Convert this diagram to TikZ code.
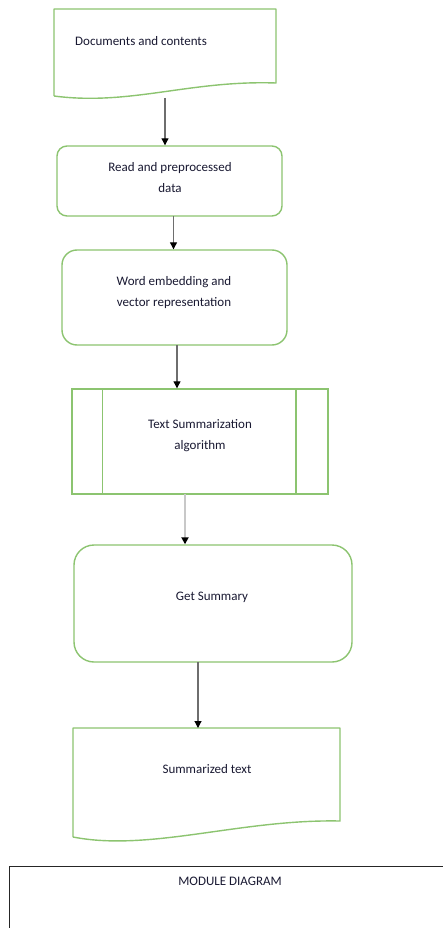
\documentclass[tikz,border=0pt]{standalone}
\usepackage{fontspec}
\setmainfont{Carlito}
\usetikzlibrary{arrows.meta}
\definecolor{gborder}{RGB}{140,196,112}
\definecolor{txtc}{RGB}{25,25,50}
\definecolor{arrc}{RGB}{110,110,110}
\definecolor{arrlight}{RGB}{200,200,200}
\begin{document}
\begin{tikzpicture}[x=1pt,y=-1pt,
  shapebox/.style={draw=gborder,line width=1.4pt,minimum width=#1,inner sep=0pt},
  lbl/.style={text=txtc,font=\fontsize{13}{21}\selectfont,align=center,inner sep=0pt},
  arr/.style={draw=arrc,line width=1.1pt,-{Triangle[color=black,width=7pt,length=7pt]}},
  docshape/.style={draw=gborder,line width=1.4pt,line join=round},
  innerline/.style={draw=gborder,line width=1.6pt}
]
\clip (0,0) rectangle (443,928);
\fill[white] (0,0) rectangle (443,928);

% document 1
\draw[docshape] (54,96) -- (54,9) -- (276,9) -- (276,83)
  .. controls (190,80) and (130,106) .. (54,96);
\coordinate (d1b) at (165,98);
\node[lbl,anchor=west] (t1) at (75,41) {Documents and contents};

% box 2
\node[shapebox=225pt,minimum height=70pt,rounded corners=10pt] (b2) at (169.5,181) {};
\node[lbl] (t2) at (170,177.5) {Read and preprocessed\\data};

% box 3
\node[shapebox=225pt,minimum height=95pt,rounded corners=15pt] (b3) at (174.5,297.5) {};
\node[lbl] (t3) at (174,292.5) {Word embedding and\\vector representation};

% box 4 predefined process
\node[shapebox=256pt,minimum height=105pt] (b4) at (200,441.5) {};
\draw[innerline] (b4.north west) ++(31,0) coordinate (b4il) -- (b4il |- b4.south);
\draw[innerline] (b4.north east) ++(-33,0) coordinate (b4ir) -- (b4ir |- b4.south);
\node[lbl] (t4) at (200,436) {Text Summarization\\algorithm};

% box 5
\node[shapebox=278pt,minimum height=117pt,rounded corners=20pt] (b5) at (213,603.5) {};
\node[lbl] (t5) at (212,597) {Get Summary};

% document 6
\draw[docshape] (73,837) -- (73,728) -- (340,728) -- (340,821)
  .. controls (240,819) and (150,852) .. (73,837);
\node[lbl] (t6) at (207,769) {Summarized text};
\coordinate (d6t) at (198,728);

% module diagram box
\node[draw=black!85,line width=1.1pt,minimum width=460pt,minimum height=100pt,anchor=north west,inner sep=0pt] (mod) at (9,866) {};
\node[lbl,font=\fontsize{13}{15}\selectfont] (tm) at (230,881) {MODULE DIAGRAM};

% connectors
\draw[arr] (d1b) -- (d1b |- b2.north);
\coordinate (a2) at (173.5,216);
\draw[arr] (a2) -- (a2 |- b3.north);
\coordinate (a3) at (177,345);
\draw[arr] (a3) -- (a3 |- b4.north);
\coordinate (a4) at (185,494);
\draw[arr,draw=arrlight,line width=2pt] (a4) -- (a4 |- b5.north);
\coordinate (a5) at (198,662);
\draw[arr] (a5) -- (d6t);
\end{tikzpicture}
\end{document}
